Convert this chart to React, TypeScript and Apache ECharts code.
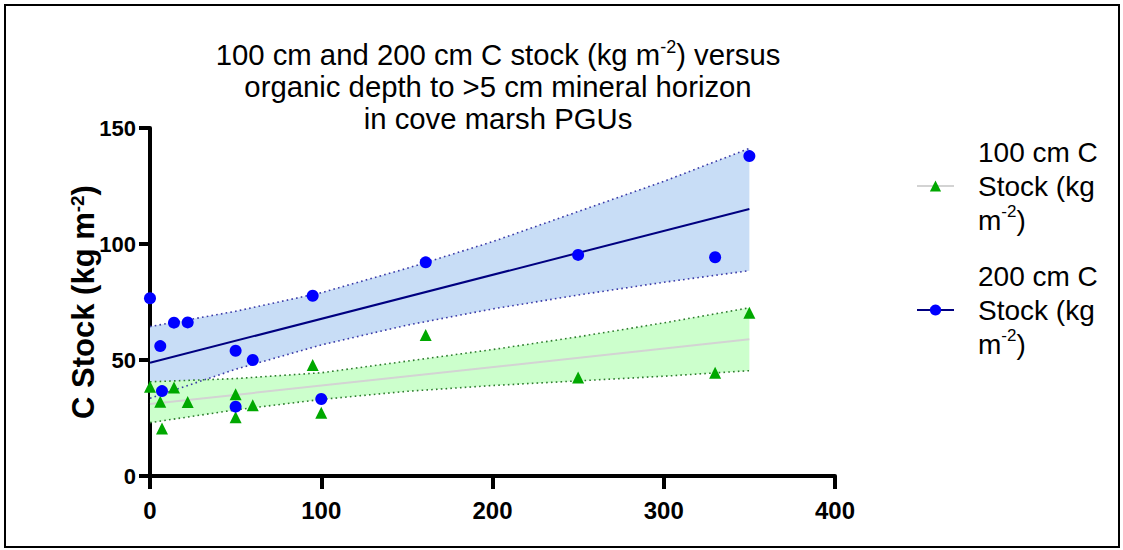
import React, { useEffect, useRef } from 'react';
import * as echarts from 'echarts';

// Raw points (x = organic depth, cm)
const depth = [0, 6, 7, 14, 22, 50, 50, 60, 95, 100, 161, 250, 330, 350];
const stock200 = [76.6, 56.0, 36.6, 66.1, 66.2, 54.0, 29.9, 50.0, 77.7, 33.2, 92.1, 95.3, 94.3, 137.9];
const stock100 = [38.5, 32.0, 20.5, 38.2, 31.9, 35.2, 25.3, 30.5, 47.8, 27.3, 60.8, 42.5, 44.5, 70.4];

// Fitted lines
const fitX = [0, 350];
const fit200 = [48.8, 115.1];
const fit100 = [31.0, 58.9];

// Confidence bands
const bandX = [0, 50, 100, 150, 200, 250, 300, 350];
const upper200 = [64.4, 71, 79, 89.5, 101, 114, 127, 141.2];
const lower200 = [33.5, 46, 56.5, 65, 72, 78, 83.5, 88.5];
const upper100 = [40.6, 42, 44.5, 49.5, 54.5, 60, 66, 72.5];
const lower100 = [23, 28.5, 33, 36.5, 39, 41, 43, 45.4];

const NAME100 = '100 cm C Stock (kg m-2)';
const NAME200 = '200 cm C Stock (kg m-2)';

const FONT = 'Liberation Sans, Arial, sans-serif';

const pairs = (xs: number[], ys: number[]) => xs.map((x, i) => [x, ys[i]]);

const band = (lower: number[], upper: number[], fill: string) => ({
  type: 'custom',
  silent: true,
  z: 1,
  data: [[0, 0]],
  renderItem: (_p: any, api: any) => {
    const pts: number[][] = [];
    for (let i = 0; i < bandX.length; i++) pts.push(api.coord([bandX[i], upper[i]]));
    for (let i = bandX.length - 1; i >= 0; i--) pts.push(api.coord([bandX[i], lower[i]]));
    return { type: 'polygon', shape: { points: pts }, style: { fill, stroke: 'none' } };
  },
});

const dotted = (ys: number[], color: string) => ({
  type: 'line',
  silent: true,
  z: 2,
  symbol: 'none',
  data: pairs(bandX, ys),
  lineStyle: { color, width: 1.6, type: [1.6, 3.2] },
});

export default function App() {
  const ref = useRef<HTMLDivElement>(null);
  useEffect(() => {
    if (!ref.current) return;
    const chart = echarts.init(ref.current, undefined, { renderer: 'svg' });
    chart.setOption({
      animation: false,
      backgroundColor: '#fff',
      textStyle: { fontFamily: FONT },
      title: {
        text: '100 cm and 200 cm C stock (kg m{sup|-2}) versus\norganic depth to >5 cm mineral horizon\nin cove marsh PGUs',
        left: 493,
        top: 33,
        textAlign: 'center',
        textStyle: {
          fontFamily: FONT,
          fontSize: 29.3,
          fontWeight: 'normal',
          color: '#000',
          lineHeight: 32,
          rich: { sup: { fontFamily: FONT, fontSize: 18, lineHeight: 18, verticalAlign: 'top', color: '#000' } },
        },
      },
      legend: {
        orient: 'vertical',
        left: 911,
        top: 130,
        itemWidth: 37,
        itemHeight: 14,
        itemGap: 22,
        data: [NAME100, NAME200],
        formatter: (name: string) =>
          name === NAME100 ? '100 cm C\nStock (kg\nm{sup|-2})' : '200 cm C\nStock (kg\nm{sup|-2})',
        textStyle: {
          fontFamily: FONT,
          fontSize: 28,
          lineHeight: 34,
          color: '#000',
          padding: [0, 0, 0, 19],
          rich: { sup: { fontFamily: FONT, fontSize: 17, lineHeight: 17, verticalAlign: 'top', color: '#000' } },
        },
      },
      grid: { left: 150, right: 288, top: 128, bottom: 74, containLabel: false },
      xAxis: {
        type: 'value',
        min: 0,
        max: 400,
        interval: 100,
        splitLine: { show: false },
        axisLine: { show: true, lineStyle: { color: '#000', width: 4 } },
        axisTick: { show: true, length: 13, lineStyle: { color: '#000', width: 4 } },
        axisLabel: { margin: 22, fontFamily: FONT, fontSize: 24, fontWeight: 'bold', color: '#000' },
      },
      yAxis: {
        type: 'value',
        min: 0,
        max: 150,
        interval: 50,
        name: 'C Stock (kg m{sup|-2})',
        nameLocation: 'middle',
        nameGap: 51,
        nameMoveOverlap: false,
        nameRotate: 90,
        nameTextStyle: {
          fontFamily: FONT,
          fontSize: 31,
          fontWeight: 'bold',
          color: '#000',
          rich: { sup: { fontFamily: FONT, fontSize: 19, fontWeight: 'bold', lineHeight: 19, verticalAlign: 'top', color: '#000' } },
        },
        splitLine: { show: false },
        axisLine: { show: true, lineStyle: { color: '#000', width: 4 } },
        axisTick: { show: true, length: 11, lineStyle: { color: '#000', width: 4 } },
        axisLabel: { margin: 14, fontFamily: FONT, fontSize: 22, fontWeight: 'bold', color: '#000' },
      },
      graphic: [
        {
          type: 'rect',
          shape: { x: 5, y: 5, width: 1114, height: 542 },
          style: { fill: 'none', stroke: '#000', lineWidth: 2 },
          silent: true,
        },
      ],
      series: [
        {
          name: NAME100,
          type: 'line',
          z: 3,
          data: pairs(fitX, fit100),
          showSymbol: false,
          symbol: 'triangle',
          itemStyle: { color: '#00a800' },
          lineStyle: { color: '#d3d3d3', width: 2 },
        },
        {
          name: NAME200,
          type: 'line',
          z: 3,
          data: pairs(fitX, fit200),
          showSymbol: false,
          symbol: 'circle',
          itemStyle: { color: '#0000ff' },
          lineStyle: { color: '#000080', width: 2 },
        },
        band(lower200, upper200, '#c8ddf6'),
        band(lower100, upper100, '#ccffcc'),
        dotted(upper200, '#3a3aa8'),
        dotted(lower200, '#3a3aa8'),
        dotted(upper100, '#2d7d2d'),
        dotted(lower100, '#2d7d2d'),
        {
          name: NAME100,
          type: 'scatter',
          z: 4,
          symbol: 'triangle',
          symbolSize: 12,
          data: pairs(depth, stock100),
          itemStyle: { color: '#00a800', opacity: 1 },
        },
        {
          name: NAME200,
          type: 'scatter',
          z: 5,
          symbol: 'circle',
          symbolSize: 12,
          data: pairs(depth, stock200),
          itemStyle: { color: '#0000ff', opacity: 1 },
        },
      ],
    });
    return () => chart.dispose();
  }, []);
  return (
    <div
      ref={ref}
      style={{ position: 'fixed', left: 0, top: 0, width: 1123, height: 550, background: '#fff' }}
    />
  );
}
